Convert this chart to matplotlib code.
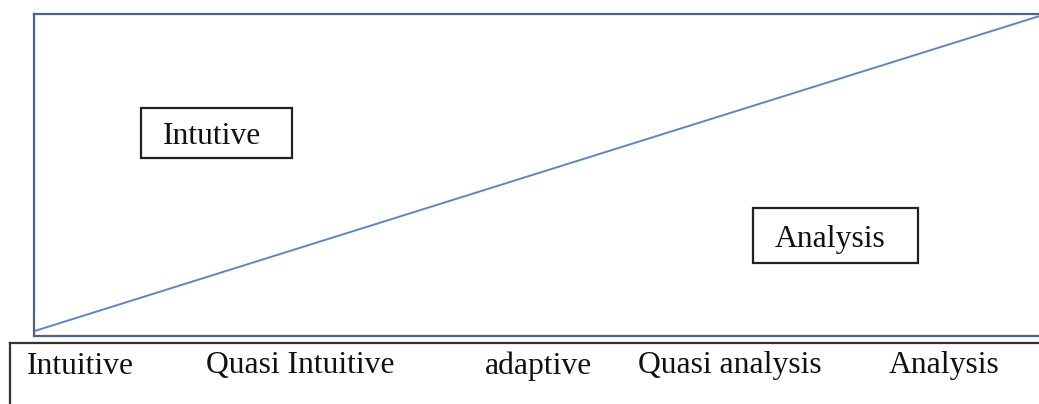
import matplotlib.pyplot as plt
from matplotlib.patches import Rectangle

# continuum from intuitive to analytic thinking
scale_labels = ["Intuitive", "Quasi Intuitive", "adaptive", "Quasi analysis", "Analysis"]
trend_x = [0.0, 1.0]
trend_y = [0.015, 1.0]
region_labels = ["Intutive", "Analysis"]

W, H = 1039, 404
plt.rcParams['font.family'] = ['Liberation Serif', 'DejaVu Serif']

fig = plt.figure(figsize=(W / 100, H / 100), dpi=100)
fig.patch.set_facecolor("white")

# main panel (right edge runs off the picture)
ax = fig.add_axes([34 / W, (H - 336) / H, (1046 - 34) / W, (336 - 14) / H])
ax.plot(trend_x, trend_y, color="#5B87C8", lw=1.4, solid_capstyle="butt")
ax.set_xlim(0, 1)
ax.set_ylim(0, 1)
ax.set_xticks([])
ax.set_yticks([])
for s in ax.spines.values():
    s.set_color("#4F6288")
    s.set_linewidth(1.6)

# scale strip below
ax2 = fig.add_axes([10 / W, -0.1, 1.1, (H - 343) / H + 0.1])
ax2.set_xticks([])
ax2.set_yticks([])
for s in ax2.spines.values():
    s.set_color("#333333")
    s.set_linewidth(1.6)

# overlay in pixel coordinates for text and boxes
ov = fig.add_axes([0, 0, 1, 1])
ov.set_xlim(0, W)
ov.set_ylim(H, 0)
ov.axis("off")
ov.patch.set_alpha(0)

label_x = [80, 300, 538, 730, 944]
for lab, x in zip(scale_labels, label_x):
    ov.text(x, 366, lab, ha="center", va="center", fontsize=22.8, color="#111111")

boxes = [(141, 108, 151, 50), (753, 208, 165, 55)]
text_pos = [(212, 136), (830, 239)]
for lab, (bx, by, bw, bh), (tx, ty) in zip(region_labels, boxes, text_pos):
    ov.add_patch(Rectangle((bx, by), bw, bh, fill=False, ec="#222222", lw=1.6))
    ov.text(tx, ty, lab, ha="center", va="center", fontsize=22.8, color="#111111")

fig.savefig("out.png", dpi=100)
